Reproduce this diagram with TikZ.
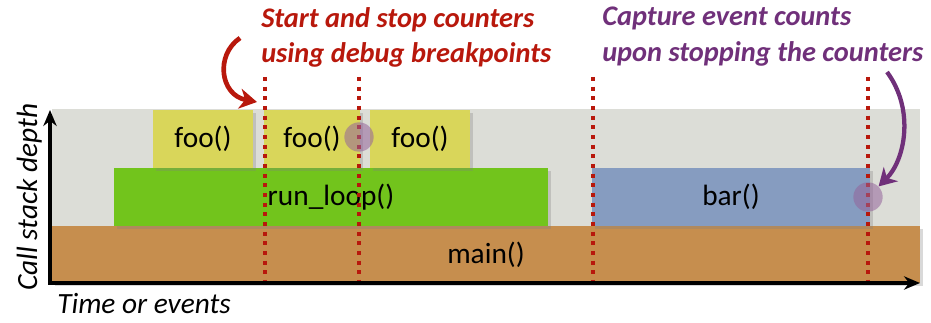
\documentclass[tikz,border=0pt]{standalone}
\usepackage{fontspec}
\setmainfont{Carlito}
\usetikzlibrary{arrows.meta,shadows}
\definecolor{bgcol}{HTML}{DCDDD7}
\definecolor{foocol}{HTML}{D9D65A}
\definecolor{loopcol}{HTML}{72C41C}
\definecolor{barcol}{HTML}{869CC0}
\definecolor{maincol}{HTML}{C68E4E}
\definecolor{bpred}{HTML}{B8180C}
\definecolor{capcol}{HTML}{70307A}
\begin{document}
\begin{tikzpicture}[x=0.75pt, y=-0.75pt,
  font=\fontsize{22pt}{26pt}\selectfont,
  fnbox/.style={inner sep=0pt, minimum height=43.5pt,
    drop shadow={shadow xshift=2.5pt, shadow yshift=-2pt, opacity=0.3}},
  bpline/.style={bpred, line width=3pt, dash pattern=on 3pt off 4.25pt},
  capdot/.style={circle, minimum size=22pt, inner sep=0pt, fill=capcol!75, fill opacity=0.55},
  axis/.style={line width=2.6pt, -{Stealth[length=12pt, width=10pt]}}]
\useasboundingbox (0,0) rectangle (931,323);
\fill[bgcol] (52,109) rectangle (920,283);
% call stack
\node[fnbox, fill=maincol, minimum width=651pt, minimum height=42.75pt] (main) at (486,254.5) {main()};
\node[fnbox, fill=loopcol, minimum width=325.5pt] (loop) at (331,197) {run\_loop()};
\node[fnbox, fill=barcol, minimum width=208.5pt] (bar) at (731,197) {bar()};
\node[fnbox, fill=foocol, minimum width=75pt] (foo1) at (203,139) {foo()};
\node[fnbox, fill=foocol, minimum width=72pt] (foo2) at (312,139) {foo()};
\node[fnbox, fill=foocol, minimum width=75pt] (foo3) at (420,139) {foo()};
% breakpoints
\coordinate (bp1t) at (265,77);  \coordinate (bp1b) at (265,283);
\coordinate (bp2t) at (359,77);  \coordinate (bp2b) at (359,283);
\coordinate (bp3t) at (593,77);  \coordinate (bp3b) at (593,283);
\coordinate (bp4t) at (868,77);  \coordinate (bp4b) at (868,283);
\draw[bpline] (bp1t) -- (bp1b);
\draw[bpline] (bp2t) -- (bp2b);
\draw[bpline] (bp3t) -- (bp3b);
\draw[bpline] (bp4t) -- (bp4b);
\node[capdot] (cap1) at (359,137) {};
\node[capdot] (cap2) at (868,197) {};
% axes
\coordinate (origin) at (50,283);
\coordinate (ytop) at (50,110);
\coordinate (xend) at (920,283);
\draw[axis] (origin) -- (ytop);
\draw[axis] ([xshift=-1.3pt]origin) -- (xend);
\node[rotate=90, anchor=base, font=\fontsize{22pt}{26pt}\itshape] (ylabel) at (37,197) {Call stack depth};
\node[anchor=base west, inner sep=0pt, font=\fontsize{22pt}{26pt}\itshape] (xlabel) at (57,314) {Time or events};
% notes
\node[anchor=north west, inner sep=0pt, align=left, text=bpred,
  font=\fontsize{21.3pt}{26.5pt}\bfseries\itshape] (startnote) at (261,7)
  {Start and stop counters\\using debug breakpoints};
\node[anchor=north west, inner sep=0pt, align=left, text=capcol,
  font=\fontsize{21.3pt}{26.5pt}\bfseries\itshape] (capnote) at (602,7)
  {Capture event counts\\upon stopping the counters};
\coordinate (redtail) at (240,38);
\coordinate (redtip) at (257,102);
\draw[bpred, line width=3.5pt, -{Stealth[length=13pt, width=15pt, inset=4pt]}]
  (redtail) .. controls (215,55) and (220,95) .. (redtip);
\coordinate (captail) at (887,72);
\draw[capcol, line width=3.2pt, -{Stealth[length=13pt, width=15pt, inset=4pt]}]
  (captail) .. controls (915,110) and (905,160) .. (cap2);
\end{tikzpicture}
\end{document}
